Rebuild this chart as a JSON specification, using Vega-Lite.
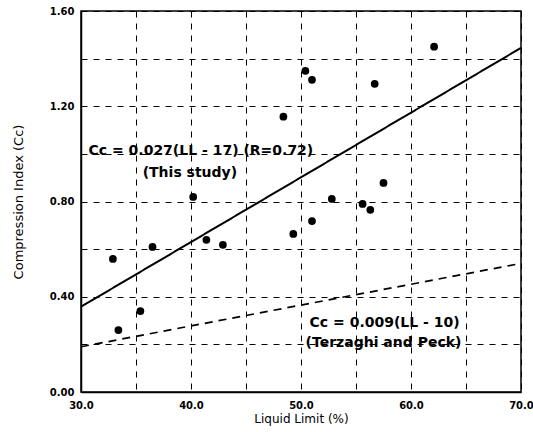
{
  "$schema": "https://vega.github.io/schema/vega-lite/v6.json",
  "autosize": "none",
  "width": 440,
  "height": 381,
  "padding": {"left": 81, "top": 11, "right": 12, "bottom": 40},
  "background": "white",
  "config": {
    "view": {"stroke": "black", "strokeWidth": 1.5},
    "font": "DejaVu Sans"
  },
  "datasets": {
    "pts": [
      {"ll": 32.9, "cc": 0.559},
      {"ll": 36.5, "cc": 0.609},
      {"ll": 41.4, "cc": 0.639},
      {"ll": 42.9, "cc": 0.618},
      {"ll": 33.4, "cc": 0.26},
      {"ll": 35.4, "cc": 0.34},
      {"ll": 40.2, "cc": 0.819},
      {"ll": 48.4, "cc": 1.156},
      {"ll": 50.4, "cc": 1.349},
      {"ll": 51.0, "cc": 1.311},
      {"ll": 56.7, "cc": 1.294},
      {"ll": 62.1, "cc": 1.45},
      {"ll": 57.5, "cc": 0.878},
      {"ll": 52.8, "cc": 0.811},
      {"ll": 55.6, "cc": 0.79},
      {"ll": 56.3, "cc": 0.765},
      {"ll": 51.0, "cc": 0.718},
      {"ll": 49.3, "cc": 0.664}
    ],
    "lines": [
      {"ll": 30, "cc": 0.358, "model": "This study"},
      {"ll": 70, "cc": 1.445, "model": "This study"},
      {"ll": 30, "cc": 0.19, "model": "Terzaghi and Peck"},
      {"ll": 70, "cc": 0.54, "model": "Terzaghi and Peck"}
    ],
    "labels": [
      {"ll": 40.9, "cc": 1.013, "text": "Cc = 0.027(LL - 17) (R=0.72)"},
      {"ll": 39.9, "cc": 0.92, "text": "(This study)"},
      {"ll": 57.6, "cc": 0.29, "text": "Cc = 0.009(LL - 10)"},
      {"ll": 57.5, "cc": 0.206, "text": "(Terzaghi and Peck)"}
    ]
  },
  "layer": [
    {
      "data": {"name": "pts"},
      "mark": {"type": "point", "filled": true, "color": "black", "opacity": 1, "size": 60},
      "encoding": {
        "x": {
          "field": "ll", "type": "quantitative",
          "scale": {"domain": [30, 70], "nice": false, "zero": false},
          "axis": {
            "values": [30, 35, 40, 45, 50, 55, 60, 65, 70],
            "labelExpr": "datum.value % 10 == 0 ? format(datum.value, '.1f') : ''",
            "labelFlush": false,
            "labelOverlap": false,
            "title": "Liquid Limit (%)",
            "grid": true, "gridColor": "black", "gridDash": [6, 6], "gridOpacity": 1, "gridWidth": 1,
            "domainColor": "black", "domainWidth": 1.5,
            "ticks": false,
            "labelFont": "DejaVu Sans", "labelFontWeight": "bold", "labelFontSize": 10, "labelColor": "black",
            "labelPadding": 8,
            "titleFont": "DejaVu Sans", "titleFontWeight": "normal", "titleFontSize": 12, "titleColor": "black",
            "titlePadding": 3
          }
        },
        "y": {
          "field": "cc", "type": "quantitative",
          "scale": {"domain": [0, 1.6], "nice": false},
          "axis": {
            "values": [0, 0.2, 0.4, 0.6, 0.8, 1.0, 1.2, 1.4, 1.6],
            "labelExpr": "round(datum.value * 10) % 4 == 0 ? format(datum.value, '.2f') : ''",
            "labelFlush": false,
            "labelOverlap": false,
            "title": "Compression Index (Cc)",
            "grid": true, "gridColor": "black", "gridDash": [6, 6], "gridOpacity": 1, "gridWidth": 1,
            "domainColor": "black", "domainWidth": 1.5,
            "ticks": false,
            "labelFont": "DejaVu Sans", "labelFontWeight": "bold", "labelFontSize": 10, "labelColor": "black",
            "labelPadding": 7,
            "titleFont": "DejaVu Sans", "titleFontWeight": "normal", "titleFontSize": 13, "titleColor": "black",
            "titlePadding": 24
          }
        }
      }
    },
    {
      "data": {"name": "lines"},
      "mark": {"type": "line", "color": "black"},
      "encoding": {
        "x": {"field": "ll", "type": "quantitative"},
        "y": {"field": "cc", "type": "quantitative"},
        "detail": {"field": "model"},
        "strokeDash": {
          "field": "model", "type": "nominal",
          "scale": {"domain": ["This study", "Terzaghi and Peck"], "range": [[1, 0], [8, 6]]},
          "legend": null
        },
        "strokeWidth": {
          "field": "model", "type": "nominal",
          "scale": {"domain": ["This study", "Terzaghi and Peck"], "range": [2, 1.7]},
          "legend": null
        }
      }
    },
    {
      "data": {"name": "labels"},
      "mark": {"type": "text", "fontWeight": "bold", "fontSize": 14, "font": "DejaVu Sans", "color": "black", "align": "center", "baseline": "middle"},
      "encoding": {
        "x": {"field": "ll", "type": "quantitative"},
        "y": {"field": "cc", "type": "quantitative"},
        "text": {"field": "text"}
      }
    }
  ]
}
